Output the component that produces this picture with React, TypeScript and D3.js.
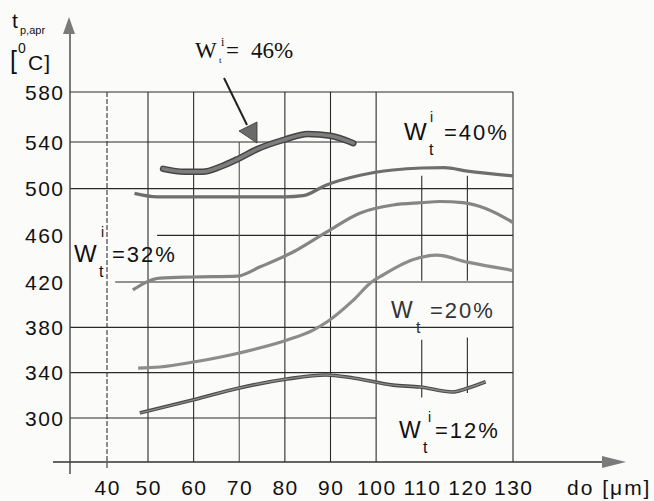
import React from "react";
import * as d3 from "d3";

// --- data ---
const xTicks = [40, 50, 60, 70, 80, 90, 100, 110, 120, 130];
const yTicks = [300, 340, 380, 420, 460, 500, 540, 580];

const w46: [number, number][] = [[53.3, 517], [58, 514.5], [62, 514.5], [66, 519], [70, 526], [74, 534], [80, 542], [85, 546.5], [90, 545], [95, 539]];
const w40: [number, number][] = [[46.7, 496], [52, 493], [60, 493], [70, 493], [80, 493], [84, 494], [89, 503], [96.5, 511.5], [103.7, 516], [110, 517.7], [115, 518], [120, 515], [130, 511]];
const w32: [number, number][] = [[46.3, 413], [52.6, 423.4], [60, 424.3], [69.6, 425], [74.6, 433], [81.8, 445.7], [89.2, 463], [96.4, 479], [103.7, 486], [110, 488], [114, 489], [119, 488], [124, 483], [130, 471]];
const w20: [number, number][] = [[47.6, 344], [52.6, 345], [60, 349.4], [70, 357.4], [80.5, 368.8], [86.2, 377.6], [89.2, 384.7], [95, 404], [99, 420], [101.5, 426], [108, 439], [113.3, 443], [120, 437], [130, 430]];
const w12: [number, number][] = [[48, 304.4], [60, 316], [70, 326.5], [80.5, 334.4], [89, 338], [95, 335.3], [103.7, 329], [109.6, 327.4], [116.8, 323], [119.5, 325.6], [124, 332]];

// grid segments in data units (the scan has some gaps)
const hGrid: [number, number, number][] = [[580, 31, 130], [540, 31, 100], [500, 31, 130], [460, 52, 130], [420, 42, 130], [380, 31, 130], [340, 31, 130], [300, 31, 100]];
const vGrid: [number, number, number][] = [[50, 580, 261], [60, 580, 261], [70, 540, 261], [80, 580, 261], [90, 580, 261], [100, 580, 261], [110, 511, 421], [110, 369, 318], [120, 511, 421], [120, 371, 322], [130, 580, 261]];

const x = d3.scaleLinear().domain([31, 40, 50, 130]).range([70, 107, 148, 513]);
const y = d3.scaleLinear().domain([261, 300, 420, 540, 580]).range([462, 418, 282, 142, 92]);

const line = d3
  .line<[number, number]>()
  .x((d) => x(d[0]))
  .y((d) => y(d[1]))
  .curve(d3.curveMonotoneX);

const sans = "'Liberation Sans', Arial, sans-serif";
const serif = "'Liberation Serif', 'Times New Roman', serif";

// the scan is a little wider than tall, so labels get some letter spacing
const tickStyle = { fontFamily: sans, fontSize: 21, letterSpacing: 1.5, fill: "#111" };
const eqStyle = { fontFamily: sans, fontSize: 22, letterSpacing: 2, fill: "#111" };

export default function App() {
  const gridColor = "#2a2a2a";
  return (
    <svg width={654} height={501} style={{ position: "absolute", left: 0, top: 0, background: "#fbfbfa" }}>
      {/* grid */}
      {hGrid.map(([v, a, b], i) => (
        <line key={"h" + i} x1={x(a)} x2={x(b)} y1={y(v)} y2={y(v)} stroke={gridColor} strokeWidth={1.2} />
      ))}
      {vGrid.map(([v, a, b], i) => (
        <line key={"v" + i} x1={x(v)} x2={x(v)} y1={y(a)} y2={y(b)} stroke={v === 70 ? "#555" : gridColor} strokeWidth={1.1} />
      ))}
      <line x1={x(40)} x2={x(40)} y1={y(580)} y2={y(254)} stroke="#333" strokeWidth={1.1} strokeDasharray="5,2" />

      {/* axes */}
      <line x1={53} x2={608} y1={y(261)} y2={y(261)} stroke="#333" strokeWidth={1.4} />
      <polygon points={`626,${y(261)} 602,${y(261) - 6} 602,${y(261) + 6}`} fill="#7a7a7a" />
      <line x1={x(31)} x2={x(31)} y1={30} y2={474} stroke="#444" strokeWidth={1.4} />
      <polygon points={`${x(31) - 1},17 ${x(31) - 7},34 ${x(31) + 5},34`} fill="#7a7a7a" />

      {/* curves */}
      <path d={line(w46) || ""} fill="none" stroke="#444" strokeWidth={6.5} strokeLinecap="round" />
      <path d={line(w46) || ""} fill="none" stroke="#7d7d7d" strokeWidth={3.5} strokeLinecap="round" />
      <path d={line(w40) || ""} fill="none" stroke="#6e6e6e" strokeWidth={3.2} />
      <path d={line(w32) || ""} fill="none" stroke="#858585" strokeWidth={3.2} />
      <path d={line(w20) || ""} fill="none" stroke="#8c8c8c" strokeWidth={3.2} />
      <path d={line(w12) || ""} fill="none" stroke="#4a4a4a" strokeWidth={3.6} />
      <path d={line(w12) || ""} fill="none" stroke="#8a8a8a" strokeWidth={1.4} />

      {/* tick labels */}
      {yTicks.map((t) => (
        <text key={t} x={64.5} y={y(t) + 7.5} textAnchor="end" {...tickStyle}>
          {t}
        </text>
      ))}
      {xTicks.map((t) => (
        <text key={t} x={x(t) + 0.75} y={495} textAnchor="middle" {...tickStyle}>
          {t}
        </text>
      ))}
      <text x={567} y={495} {...tickStyle} letterSpacing={2}>do [μm]</text>

      {/* y axis title */}
      <text x={12} y={28} fontFamily={sans} fontSize={21} fill="#111">t</text>
      <text x={20} y={34} fontFamily={sans} fontSize={11} fill="#111">p,apr</text>
      <text x={10} y={69} fontFamily={sans} fontSize={25} fill="#111">[</text>
      <text x={18} y={53} fontFamily={sans} fontSize={14} fill="#111">0</text>
      <text x={28} y={70} fontFamily={sans} fontSize={21} letterSpacing={1} fill="#111">C]</text>

      {/* series labels */}
      <text x={195} y={58} fontFamily={serif} fontSize={23} fill="#111">W</text>
      <text x={219} y={63} fontFamily={serif} fontSize={9} fill="#111">t</text>
      <text x={221} y={46} fontFamily={serif} fontSize={12} fill="#111">i</text>
      <text x={226} y={58} fontFamily={serif} fontSize={23} fill="#111">=</text>
      <text x={251} y={58} fontFamily={serif} fontSize={23} fill="#111">46%</text>
      <line x1={224} y1={78} x2={247} y2={125} stroke="#222" strokeWidth={2} />
      <polygon points="239,131 257,122 257,143" fill="#6a6a6a" stroke="#333" strokeWidth={0.8} />

      <text x={404} y={140} fontFamily={sans} fontSize={24} fill="#111">W</text>
      <text x={429} y={155} fontFamily={sans} fontSize={16} fill="#111">t</text>
      <text x={430} y={122} fontFamily={sans} fontSize={14} fill="#111">i</text>
      <text x={444} y={140} {...eqStyle}>=40%</text>

      <text x={74} y={262} fontFamily={sans} fontSize={24} fill="#111">W</text>
      <text x={99} y={277} fontFamily={sans} fontSize={16} fill="#111">t</text>
      <text x={101} y={237} fontFamily={sans} fontSize={14} fill="#111">i</text>
      <text x={112} y={262} {...eqStyle}>=32%</text>

      <text x={391} y={318} fontFamily={sans} fontSize={23} fill="#333">W</text>
      <text x={416} y={333} fontFamily={sans} fontSize={16} fill="#333">t</text>
      <text x={430} y={318} {...eqStyle} fill="#333">=20%</text>

      <text x={399} y={438} fontFamily={sans} fontSize={23} fill="#111">W</text>
      <text x={423} y={453} fontFamily={sans} fontSize={16} fill="#111">t</text>
      <text x={428} y={422} fontFamily={sans} fontSize={14} fill="#111">i</text>
      <text x={435} y={438} {...eqStyle}>=12%</text>
    </svg>
  );
}
